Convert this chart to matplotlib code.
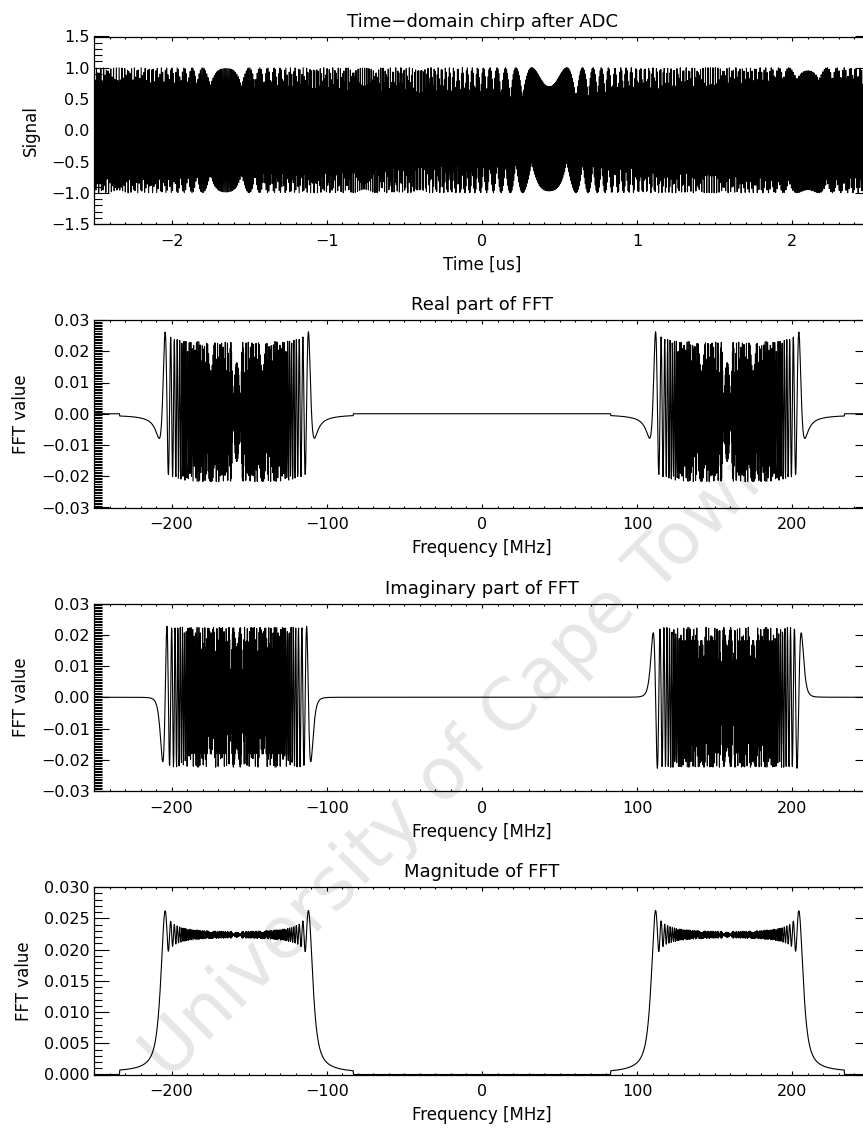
import numpy as np
import matplotlib
matplotlib.use("Agg")
import matplotlib.pyplot as plt
from matplotlib.ticker import MultipleLocator, FuncFormatter

# chirp / ADC parameters
fs = 500.0                    # MHz, sample rate (freq axis covers -fs/2..fs/2)
t_start, t_stop = -2.5, 2.5   # us
f_low, f_high = 108.0, 208.0  # MHz, linear up-chirp sweep
pass_low, pass_high = 83.0, 233.5  # MHz, spectrum kept only in this band

titles = ["Time\u2212domain chirp after ADC", "Real part of FFT",
          "Imaginary part of FFT", "Magnitude of FFT"]
xlabels = ["Time [us]", "Frequency [MHz]", "Frequency [MHz]", "Frequency [MHz]"]
ylabels = ["Signal", "FFT value", "FFT value", "FFT value"]
time_ticks = [-2, -1, 0, 1, 2]
freq_ticks = [-200, -100, 0, 100, 200]

# signal
N = int(round((t_stop - t_start) * fs))
t = t_start + np.arange(N) / fs
f0 = 0.5 * (f_low + f_high)
rate = (f_high - f_low) / (t_stop - t_start)
sig = np.sin(2 * np.pi * (f0 * t + 0.5 * rate * t ** 2))

# FFT (IDL style 1/N normalisation), band limited
spec = np.fft.fft(sig) / N
freq = np.fft.fftfreq(N, 1.0 / fs)
keep = (np.abs(freq) >= pass_low) & (np.abs(freq) <= pass_high)
spec[~keep] = 0
freq = np.fft.fftshift(freq)
spec = np.fft.fftshift(spec)

W, H = 863, 1128
fig = plt.figure(figsize=(W / 100, H / 100), dpi=100)

left = 94 / W
width = 776 / W
tops = [36.5, 320, 603.5, 887]
ph = 187.5


def fmt(decimals):
    def f(v, pos):
        v = round(v, decimals + 2) + 0.0
        return ("%.*f" % (decimals, v)).replace("-", "\u2212")
    return FuncFormatter(f)


series = [(t, sig), (freq, spec.real), (freq, spec.imag), (freq, np.abs(spec))]
ylims = [(-1.5, 1.5), (-0.03, 0.03), (-0.03, 0.03), (0.0, 0.03)]
ymajor = [0.5, 0.01, 0.01, 0.005]
yminor = [0.1, 0.0005, 0.0005, 0.001]
ydec = [1, 2, 2, 3]

for i in range(4):
    ax = fig.add_axes([left, 1 - (tops[i] + ph) / H, width, ph / H])
    ax.set_facecolor("none")
    xs, ys = series[i]
    ax.plot(xs, ys, color="black", lw=0.8)
    if i == 0:
        ax.set_xlim(t_start, t_stop)
        ax.set_xticks(time_ticks)
        ax.xaxis.set_minor_locator(MultipleLocator(0.1))
    else:
        ax.set_xlim(-fs / 2, fs / 2)
        ax.set_xticks(freq_ticks)
        ax.xaxis.set_minor_locator(MultipleLocator(10))
    ax.xaxis.set_major_formatter(fmt(0))
    ax.set_ylim(*ylims[i])
    ax.yaxis.set_major_locator(MultipleLocator(ymajor[i]))
    ax.yaxis.set_minor_locator(MultipleLocator(yminor[i]))
    ax.yaxis.set_major_formatter(fmt(ydec[i]))

    ax.tick_params(which="both", direction="in", top=True, right=True,
                   width=0.8, labelsize=11.5)
    ax.tick_params(axis="x", which="major", length=2.9, pad=7)
    ax.tick_params(axis="x", which="minor", length=1.5)
    ax.tick_params(axis="y", which="major", length=10.8, pad=3)
    ax.tick_params(axis="y", which="minor", length=5.4)
    for s in ax.spines.values():
        s.set_linewidth(0.9)

    ax.set_title(titles[i], fontsize=13, pad=7)
    ax.set_xlabel(xlabels[i], fontsize=12, labelpad=5)
    ax.set_ylabel(ylabels[i], fontsize=12, labelpad=8)

# thesis repository watermark, behind the curves
fig.text(462 / W, 1 - 760 / H, "University of Cape Town", fontsize=52,
         color="#e6e6e6", rotation=45, ha="center", va="center", zorder=-1)

fig.savefig("out.png", dpi=100)
